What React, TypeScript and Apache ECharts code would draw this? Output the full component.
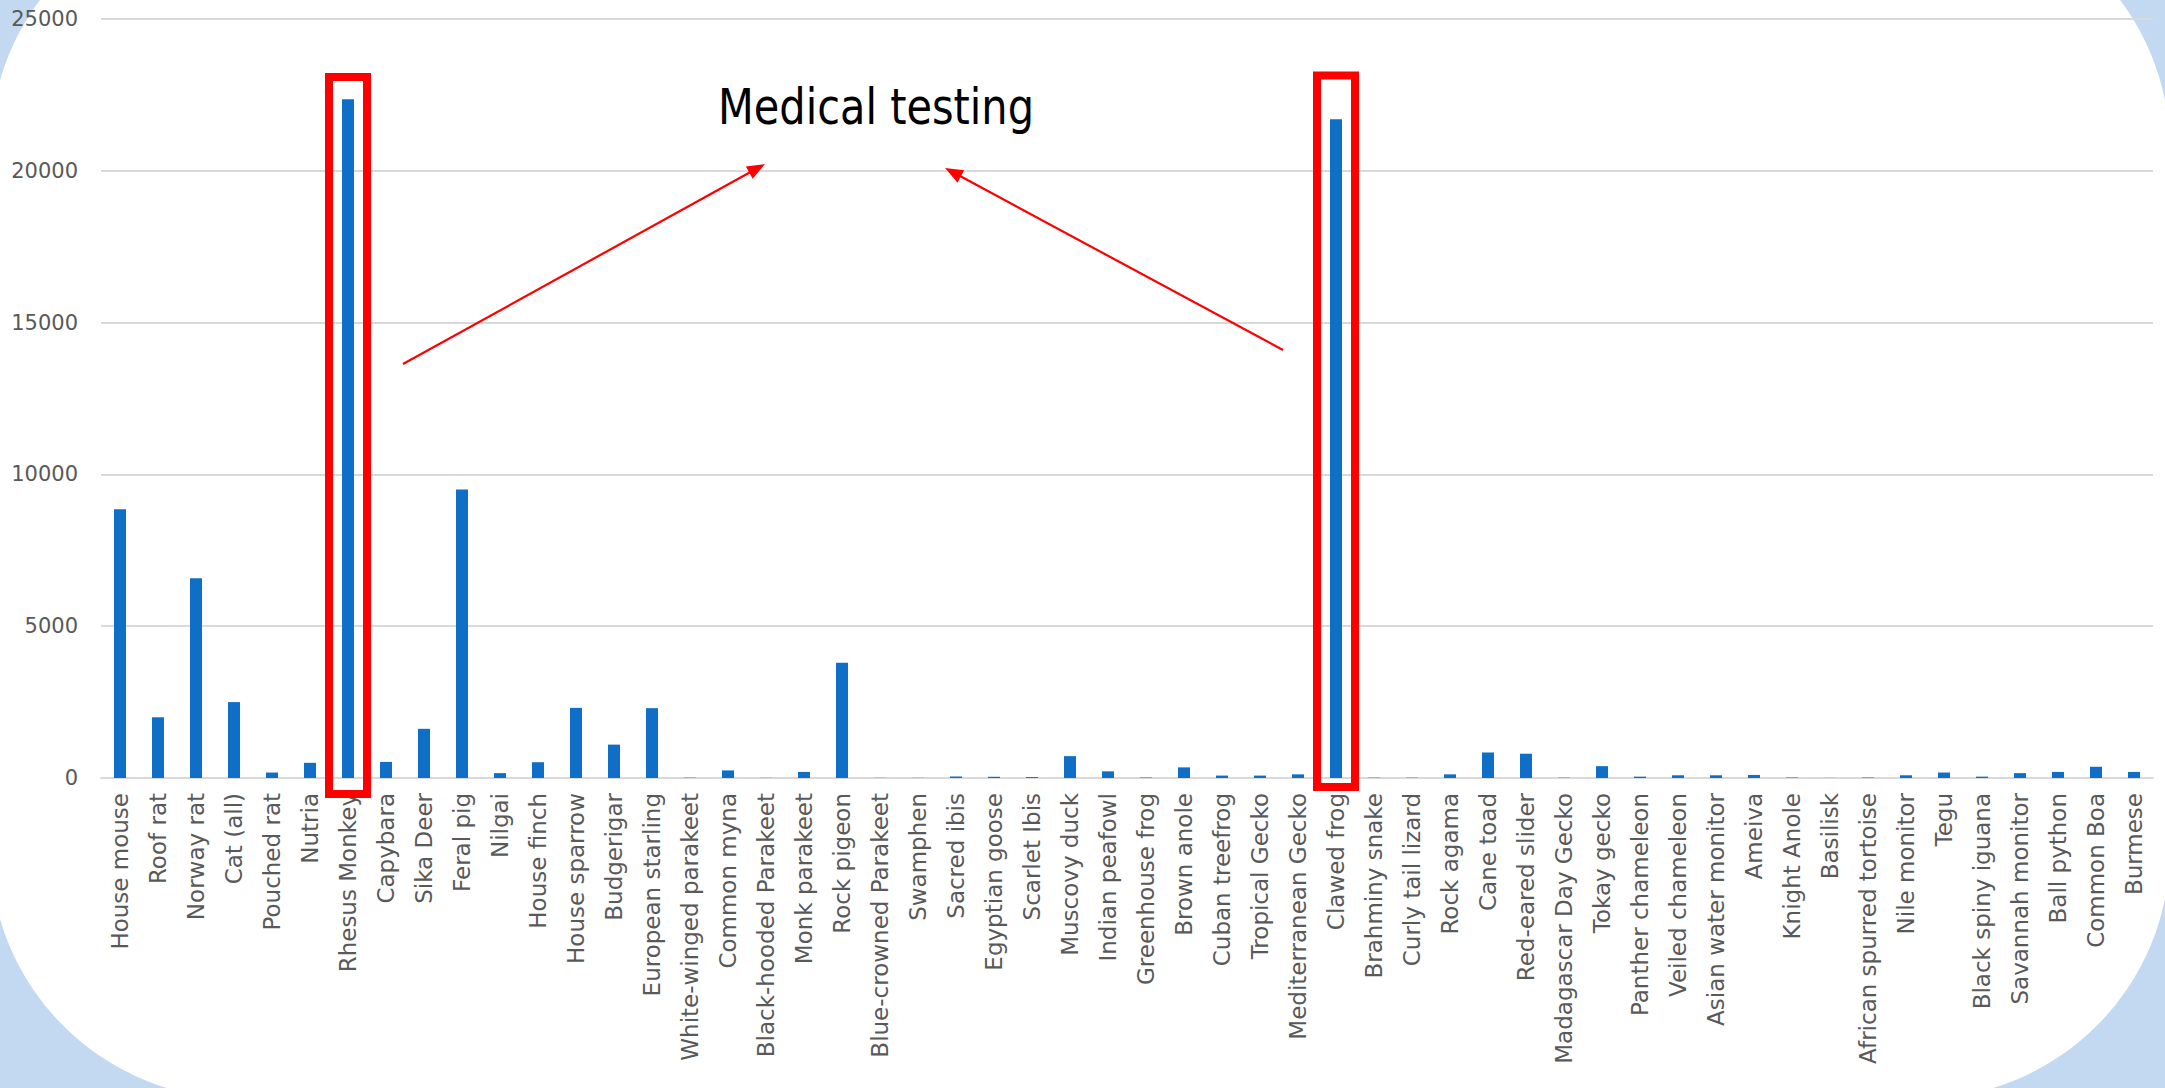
import React, { useEffect, useRef } from "react";
import * as echarts from "echarts";

const categories: string[] = [
  "House mouse", "Roof rat", "Norway rat", "Cat (all)", "Pouched rat", "Nutria",
  "Rhesus Monkey", "Capybara", "Sika Deer", "Feral pig", "Nilgai", "House finch",
  "House sparrow", "Budgerigar", "European starling", "White-winged parakeet",
  "Common myna", "Black-hooded Parakeet", "Monk parakeet", "Rock pigeon",
  "Blue-crowned Parakeet", "Swamphen", "Sacred ibis", "Egyptian goose", "Scarlet Ibis",
  "Muscovy duck", "Indian peafowl", "Greenhouse frog", "Brown anole", "Cuban treefrog",
  "Tropical Gecko", "Mediterranean Gecko", "Clawed frog", "Brahminy snake",
  "Curly tail lizard", "Rock agama", "Cane toad", "Red-eared slider",
  "Madagascar Day Gecko", "Tokay gecko", "Panther chameleon", "Veiled chameleon",
  "Asian water monitor", "Ameiva", "Knight Anole", "Basilisk",
  "African spurred tortoise", "Nile monitor", "Tegu", "Black spiny iguana",
  "Savannah monitor", "Ball python", "Common Boa", "Burmese",
];

const values: number[] = [
  8850, 2000, 6580, 2500, 180, 500,
  22360, 530, 1620, 9500, 160, 520,
  2310, 1100, 2300, 10,
  250, 5, 200, 3800,
  5, 5, 50, 40, 30,
  720, 220, 15, 350, 80,
  80, 120, 21700, 10,
  10, 120, 840, 800,
  10, 390, 45, 90,
  90, 100, 15, 3,
  15, 90, 180, 45,
  160, 200, 370, 200,
];

const yTicks = { min: 0, max: 25000, interval: 5000 };

const annotationText = "Medical testing";
const highlighted: string[] = ["Rhesus Monkey", "Clawed frog"];

function arrow(sx: number, sy: number, tx: number, ty: number) {
  const dx = tx - sx;
  const dy = ty - sy;
  const len = Math.sqrt(dx * dx + dy * dy);
  const ux = dx / len;
  const uy = dy / len;
  const hl = 18;
  const hw = 7;
  const bx = tx - hl * ux;
  const by = ty - hl * uy;
  const nx = -uy;
  const ny = ux;
  return [
    {
      type: "line",
      shape: { x1: sx, y1: sy, x2: bx + ux * 2, y2: by + uy * 2 },
      style: { stroke: "#ff0000", lineWidth: 2.2 },
      z: 100,
    },
    {
      type: "polygon",
      shape: {
        points: [
          [tx, ty],
          [bx + hw * nx, by + hw * ny],
          [bx - hw * nx, by - hw * ny],
        ],
      },
      style: { fill: "#ff0000" },
      z: 100,
    },
  ];
}

export default function App() {
  const ref = useRef<HTMLDivElement>(null);

  useEffect(() => {
    if (!ref.current) return;
    const chart = echarts.init(ref.current, null, { renderer: "svg" });
    const option: any = {
      animation: false,
      backgroundColor: "transparent",
      grid: { left: 101, right: 12, top: 19, bottom: 310, containLabel: false },
      xAxis: {
        type: "category",
        data: categories,
        boundaryGap: true,
        axisLine: { show: true, lineStyle: { color: "#d9d9d9", width: 2 } },
        axisTick: { show: false },
        axisLabel: {
          interval: 0,
          rotate: 90,
          margin: 15,
          color: "#595959",
          fontFamily: "DejaVu Sans",
          fontSize: 23,
        },
        splitLine: { show: false },
      },
      yAxis: {
        type: "value",
        min: yTicks.min,
        max: yTicks.max,
        interval: yTicks.interval,
        axisLine: { show: false },
        axisTick: { show: false },
        axisLabel: {
          margin: 23,
          color: "#595959",
          fontFamily: "DejaVu Sans",
          fontSize: 21,
          formatter: (v: number) => String(v),
        },
        splitLine: { show: true, lineStyle: { color: "#d9d9d9", width: 2 } },
      },
      series: [
        {
          type: "bar",
          data: values,
          barWidth: 12,
          itemStyle: { color: "#0f6fc6" },
        },
      ],
    };
    chart.setOption(option);

    const rects = highlighted.map((name) => {
      const p = chart.convertToPixel({ xAxisIndex: 0 }, name) as unknown as number;
      const isFirst = name === highlighted[0];
      const top = isFirst ? 77 : 75.5;
      const bottom = isFirst ? 794 : 787;
      return {
        type: "rect",
        shape: { x: p - 19, y: top, width: 38, height: bottom - top },
        style: { fill: "none", stroke: "#ff0000", lineWidth: 8 },
        z: 100,
      };
    });

    const graphics: any[] = [
      ...rects,
      ...arrow(403, 364, 765, 164),
      ...arrow(1283, 350, 945, 168),
      {
        type: "text",
        x: 718,
        y: 107,
        scaleX: 0.83,
        style: {
          text: annotationText,
          fontFamily: "DejaVu Sans",
          fontSize: 50,
          fill: "#000000",
          align: "left",
          verticalAlign: "middle",
        },
        z: 100,
      },
    ];
    chart.setOption({ graphic: graphics });

    return () => {
      chart.dispose();
    };
  }, []);

  return (
    <div
      style={{
        position: "fixed",
        left: 0,
        top: 0,
        width: 2165,
        height: 1088,
        overflow: "hidden",
        background: "#c3d8f1",
      }}
    >
      <div
        style={{
          position: "absolute",
          left: -10,
          top: -100,
          width: 2180,
          height: 1199,
          borderRadius: 250,
          background: "#ffffff",
        }}
      />
      <div
        ref={ref}
        style={{ position: "absolute", left: 0, top: 0, width: 2165, height: 1088 }}
      />
    </div>
  );
}
